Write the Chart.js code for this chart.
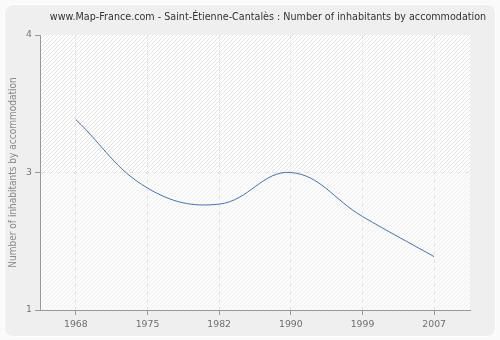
<!DOCTYPE html>
<html>
<head>
<meta charset="utf-8">
<script src="https://cdn.jsdelivr.net/npm/chart.js@4/dist/chart.umd.min.js"></script>
<style>
  html, body { margin: 0; padding: 0; background: #fafafa; }
  #wrap { width: 500px; height: 340px; position: relative; }
</style>
</head>
<body>
<div id="wrap"><canvas id="chart" width="500" height="340"></canvas></div>
<script>
// Chart data
const years = ['1968', '1975', '1982', '1990', '1999', '2007'];
// values on the axis grid: 0 = "1", 1 = "3", 2 = "4" (labels as printed on the reference)
const inhabitants = [1.385, 0.887, 0.77, 1.0, 0.68, 0.388];
const yTickValues = [0, 1, 2];
const yTickLabels = ['1', '3', '4'];

const titleText = 'www.Map-France.com - Saint-Étienne-Cantalès : Number of inhabitants by accommodation';
const yAxisTitle = 'Number of inhabitants by accommodation';

function makeHatch(bg, fg) {
  const c = document.createElement('canvas');
  c.width = 4; c.height = 4;
  const g = c.getContext('2d');
  g.fillStyle = bg;
  g.fillRect(0, 0, 4, 4);
  g.strokeStyle = fg;
  g.lineWidth = 1;
  g.beginPath();
  g.moveTo(-1, 5); g.lineTo(5, -1);
  g.stroke();
  return c;
}

// card background, hatched plot area and the title
const backdrop = {
  id: 'backdrop',
  beforeDraw(chart) {
    const ctx = chart.ctx;
    const area = chart.chartArea;
    ctx.save();
    ctx.fillStyle = '#fafafa';
    ctx.fillRect(0, 0, chart.width, chart.height);
    ctx.beginPath();
    ctx.roundRect(4.5, 4.5, 491, 332, 8);
    ctx.fillStyle = '#efefef';
    ctx.fill();
    ctx.strokeStyle = '#ffffff';
    ctx.lineWidth = 1;
    ctx.stroke();

    const midY = chart.scales.y.getPixelForValue(1);
    ctx.fillStyle = ctx.createPattern(makeHatch('#ffffff', '#e4e4e4'), 'repeat');
    ctx.fillRect(area.left, area.top, area.right - area.left, midY - area.top);
    ctx.fillStyle = ctx.createPattern(makeHatch('#fbfbfb', '#f1f1f1'), 'repeat');
    ctx.fillRect(area.left, midY, area.right - area.left, area.bottom - midY);

    ctx.fillStyle = '#333333';
    ctx.font = '9.6px "DejaVu Sans"';
    ctx.textAlign = 'center';
    ctx.textBaseline = 'middle';
    ctx.fillText(titleText, 268, 17);
    ctx.restore();
  }
};

const ctx = document.getElementById('chart').getContext('2d');
new Chart(ctx, {
  type: 'line',
  data: {
    labels: years,
    datasets: [{
      data: inhabitants,
      borderColor: '#4a73aa',
      borderWidth: 1,
      pointRadius: 0,
      tension: 0.4,
      fill: false
    }]
  },
  options: {
    responsive: false,
    animation: false,
    layout: { padding: { left: 0, right: 30, top: 35, bottom: 0 } },
    plugins: {
      legend: { display: false },
      tooltip: { enabled: false },
      title: { display: false }
    },
    scales: {
      x: {
        offset: true,
        grid: {
          offset: false,
          color: '#e2e2e2',
          tickColor: '#999999',
          tickLength: 5
        },
        border: { color: '#999999', dash: [4, 4] },
        ticks: {
          color: '#6e6e6e',
          padding: 4,
          maxRotation: 0,
          font: { family: 'DejaVu Sans', size: 9.3 }
        },
        afterFit(scale) { scale.height = 30; }
      },
      y: {
        min: 0,
        max: 2,
        afterBuildTicks(scale) {
          scale.ticks = yTickValues.map(v => ({ value: v }));
        },
        grid: {
          color: ctx => (ctx.tick && ctx.tick.value === 1) ? '#e2e2e2' : 'rgba(0,0,0,0)',
          tickColor: '#999999',
          tickLength: 5
        },
        border: { color: '#999999', dash: [4, 4] },
        ticks: {
          color: '#777777',
          padding: 3,
          font: { family: 'DejaVu Sans', size: 9.3 },
          callback: (value) => yTickLabels[yTickValues.indexOf(value)]
        },
        title: {
          display: true,
          text: yAxisTitle,
          color: '#888888',
          font: { family: "'DejaVu Sans Condensed', 'DejaVu Sans'", size: 10 },
          padding: { top: 7, bottom: 0 }
        },
        afterFit(scale) { scale.width = 40; }
      }
    }
  },
  plugins: [backdrop]
});
</script>
</body>
</html>
